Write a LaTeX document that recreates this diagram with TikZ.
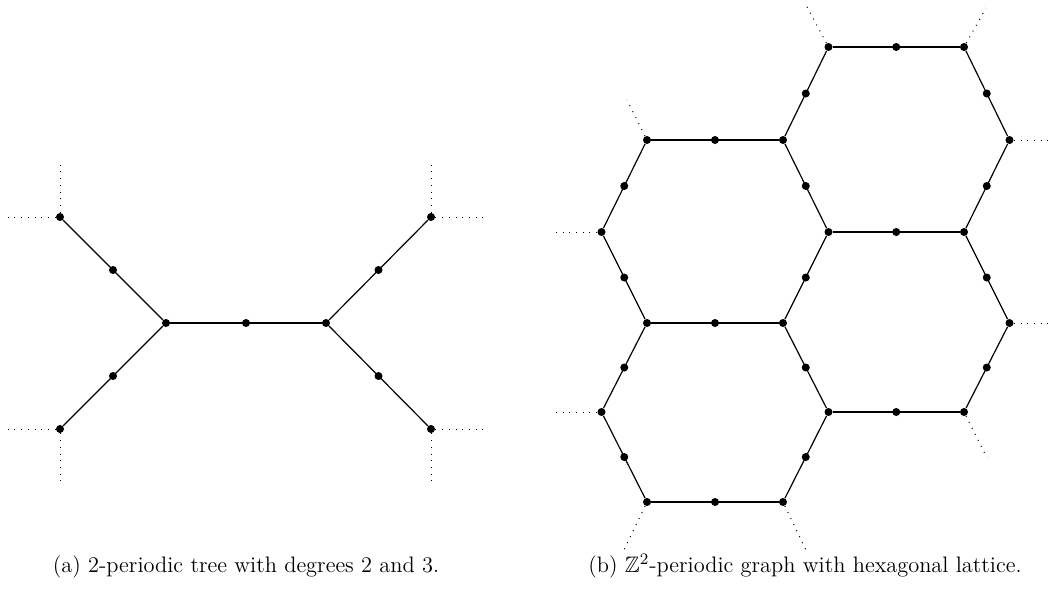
\documentclass[tikz,border=0pt]{standalone}
\usepackage{amssymb}
\usepackage{tikz}
\usetikzlibrary{positioning}

\begin{document}
\begin{tikzpicture}[
    x=0.5pt, y=-0.5pt,
    vtx/.style={circle, fill=black, inner sep=0pt, minimum size=4pt},
    edge/.style={line width=0.6pt, black},
    stub/.style={line width=0.5pt, dash pattern={on 0.5pt off 2.85pt}, black},
    caption/.style={font=\fontsize{11.2}{13.5}\selectfont, anchor=base}
]
    \useasboundingbox (0,0) rectangle (1053,591);

    % Tree: branch vertices
    \node[vtx] (l1) at (60,217) {};
    \node[vtx] (l2) at (60,429) {};
    \node[vtx] (c1) at (166,323) {};
    \node[vtx] (c2) at (326,323) {};
    \node[vtx] (r1) at (431,217) {};
    \node[vtx] (r2) at (431,429) {};

    % Tree: edges with a vertex of degree 2 in the middle
    \foreach \a/\b in {l1/c1, l2/c1, c1/c2, c2/r1, c2/r2}
        \draw[edge] (\a) -- node[vtx] (m\a\b) {} (\b);

    % Tree: periodic continuation
    \coordinate (l1u) at (60,163);  \coordinate (l1w) at (8,217);
    \coordinate (l2d) at (60,482);  \coordinate (l2w) at (8,429);
    \coordinate (r1u) at (431,163); \coordinate (r1e) at (483,217);
    \coordinate (r2d) at (431,482); \coordinate (r2e) at (483,429);
    \foreach \a/\b in {l1/l1u, l1/l1w, l2/l2d, l2/l2w, r1/r1u, r1/r1e, r2/r2d, r2/r2e}
        \draw[stub] (\a) -- (\b);

    % Hexagonal lattice: vertices
    \node[vtx] (h1) at (647,140) {};
    \node[vtx] (h2) at (783,140) {};
    \node[vtx] (h3) at (828.5,47) {};
    \node[vtx] (h4) at (964,47) {};
    \node[vtx] (h5) at (1009.5,140) {};
    \node[vtx] (h6) at (964,232) {};
    \node[vtx] (h7) at (828.5,232) {};
    \node[vtx] (h8) at (601.5,232) {};
    \node[vtx] (h9) at (647,323) {};
    \node[vtx] (h10) at (783,323) {};
    \node[vtx] (h11) at (1009.5,323) {};
    \node[vtx] (h12) at (964,412) {};
    \node[vtx] (h13) at (828.5,412) {};
    \node[vtx] (h14) at (601.5,412) {};
    \node[vtx] (h15) at (647,502) {};
    \node[vtx] (h16) at (783,502) {};

    % Hexagonal lattice: edges
    \foreach \a/\b in {h1/h2, h2/h3, h3/h4, h4/h5, h5/h6, h6/h7, h7/h2,
                       h1/h8, h8/h9, h9/h10, h10/h7, h6/h11, h11/h12,
                       h12/h13, h13/h10, h9/h14, h14/h15, h15/h16, h16/h13}
        \draw[edge] (\a) -- node[vtx] (m\a\b) {} (\b);

    % Hexagonal lattice: periodic continuation
    \coordinate (s1) at (627,100);
    \coordinate (s3) at (806,5);
    \coordinate (s4) at (986,8);
    \coordinate (s5) at (1050,140);
    \coordinate (s11) at (1050,323);
    \coordinate (s12) at (987,458);
    \coordinate (s16) at (806,550);
    \coordinate (s15) at (624,550);
    \coordinate (s14) at (555,412);
    \coordinate (s8) at (555,232);
    \foreach \n in {1,3,4,5,11,12,16,15,14,8}
        \draw[stub] (h\n) -- (s\n);

    % Captions
    \node[caption] (capa) at (246,572) {(a) 2-periodic tree with degrees 2 and 3.};
    \node[caption] (capb) at (805,572) {(b) $\mathbb{Z}^2$-periodic graph with hexagonal lattice.};
\end{tikzpicture}
\end{document}
